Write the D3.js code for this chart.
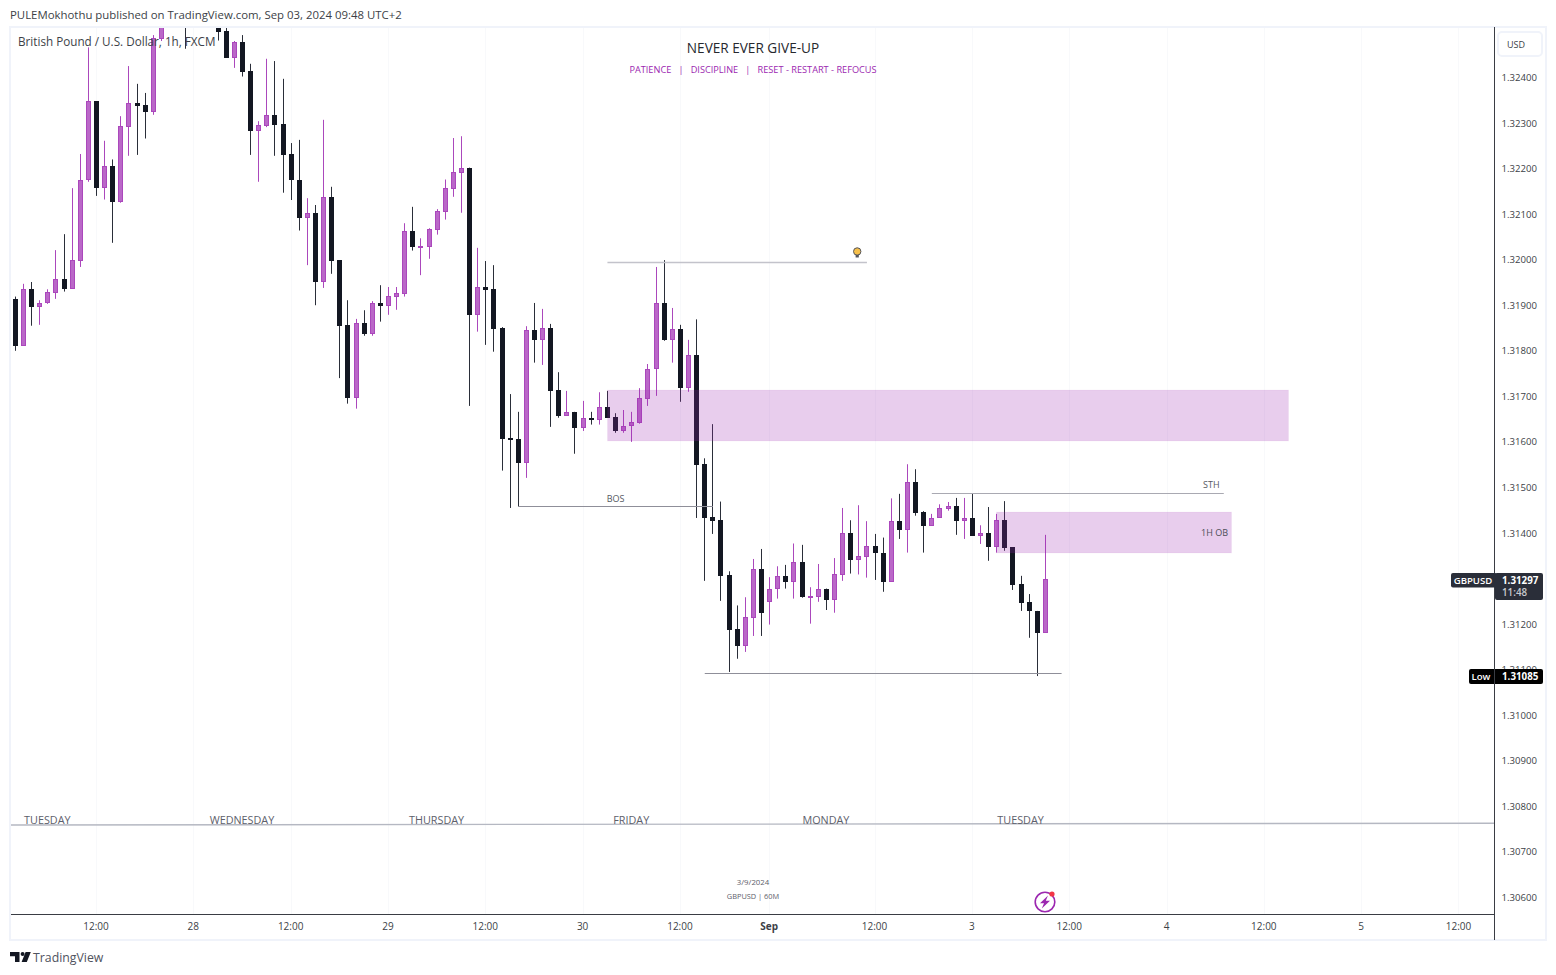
<!DOCTYPE html>
<html>
<head>
<meta charset="utf-8">
<script src="https://cdn.jsdelivr.net/npm/d3@7"></script>
<style>
html,body{margin:0;padding:0;background:#fff;overflow:hidden}
svg{display:block}
text{font-family:"Open Sans","Noto Sans",sans-serif}
</style>
</head>
<body>
<div id="chart"></div>
<script>
// ---- data (GBPUSD, 1h) ---------------------------------------------------
const opens=[1.31912,1.31810,1.31934,1.31896,1.31905,1.31926,1.31956,1.31935,1.31997,1.32175,
1.32347,1.32157,1.32204,1.32126,1.32291,1.32342,1.32339,1.32324,1.32483,
null,null,1.32560,null,null,null,
1.32512,1.32500,1.32442,1.32476,1.32413,
1.32282,1.32293,1.32316,1.32296,1.32230,1.32175,1.32091,1.32101,1.31951,1.32136,
1.31998,1.31855,1.31696,1.31861,1.31836,1.31903,1.31898,1.31918,1.31924,1.32061,
1.32027,1.32027,1.32065,1.32104,1.32155,1.32190,1.32200,1.31878,1.31938,1.31934,
1.31848,1.31607,1.31605,1.31553,1.31844,1.31823,1.31850,1.31712,1.31656,1.31664,
1.31630,1.31651,1.31648,1.31675,1.31653,1.31623,1.31634,1.31641,1.31694,1.31760,
1.31905,1.31823,1.31846,1.31718,1.31789,1.31550,1.31434,1.31427,1.31306,1.31188,
1.31151,1.31213,1.31319,1.31248,1.31277,1.31304,1.31292,1.31335,1.31259,1.31259,
1.31275,1.31252,1.31307,1.31398,1.31340,1.31347,1.31370,1.31356,1.31292,1.31425,
1.31406,1.31512,1.31445,1.31415,1.31433,1.31452,1.31458,1.31426,1.31431,1.31393,
1.31400,1.31369,1.31427,1.31368,1.31286,1.31247,1.31228,1.31180];
const highs=[1.31918,1.31946,1.31950,1.31910,1.31934,1.32020,1.32055,1.32156,1.32231,1.32465,
1.32347,1.32260,1.32219,1.32314,1.32424,1.32385,1.32365,1.32492,1.32525,
null,null,1.32580,null,null,null,
1.32521,1.32514,1.32479,1.32492,1.32429,
1.32303,1.32440,1.32435,1.32396,1.32255,1.32262,1.32134,1.32119,1.32306,1.32159,
1.31998,1.31910,1.31869,1.31888,1.31908,1.31943,1.31939,1.31939,1.32079,1.32115,
1.32046,1.32068,1.32110,1.32175,1.32266,1.32270,1.32201,1.32025,1.31996,1.31987,
1.31851,1.31704,1.31665,1.31853,1.31904,1.31891,1.31858,1.31752,1.31711,1.31665,
1.31689,1.31665,1.31708,1.31711,1.31662,1.31669,1.31665,1.31717,1.31770,1.31983,
1.31998,1.31893,1.31856,1.31823,1.31868,1.31563,1.31638,1.31468,1.31315,1.31240,
1.31258,1.31342,1.31364,1.31302,1.31326,1.31329,1.31376,1.31373,1.31280,1.31331,
1.31277,1.31344,1.31454,1.31427,1.31460,1.31425,1.31397,1.31389,1.31475,1.31485,
1.31550,1.31539,1.31447,1.31441,1.31462,1.31467,1.31476,1.31476,1.31486,1.31416,
1.31456,1.31441,1.31469,1.31368,1.31305,1.31265,1.31228,1.31395];
const lows=[1.31799,1.31810,1.31854,1.31856,1.31902,1.31913,1.31929,1.31935,1.31983,1.32170,
1.32139,1.32131,1.32036,1.32124,1.32227,1.32229,1.32265,1.32317,1.32479,
null,null,1.32462,null,null,null,
1.32480,1.32442,1.32420,1.32401,1.32229,
1.32170,1.32290,1.32227,1.32146,1.32130,1.32063,1.31987,1.31899,1.31937,1.31968,
1.31739,1.31683,1.31672,1.31832,1.31832,1.31863,1.31878,1.31889,1.31918,1.32019,
1.31965,1.32001,1.32054,1.32087,1.32137,1.32102,1.31678,1.31841,1.31812,1.31797,
1.31536,1.31454,1.31457,1.31520,1.31773,1.31768,1.31632,1.31652,1.31656,1.31573,
1.31623,1.31637,1.31637,1.31652,1.31619,1.31619,1.31599,1.31639,1.31678,1.31700,
1.31821,1.31773,1.31687,1.31709,1.31432,1.31294,1.31397,1.31250,1.31094,1.31123,
1.31138,1.31173,1.31173,1.31198,1.31255,1.31277,1.31255,1.31257,1.31200,1.31248,
1.31230,1.31224,1.31294,1.31310,1.31308,1.31301,1.31296,1.31270,1.31292,1.31386,
1.31356,1.31437,1.31356,1.31415,1.31433,1.31448,1.31395,1.31386,1.31393,1.31375,
1.31338,1.31356,1.31360,1.31274,1.31228,1.31169,1.31085,1.31180];
const closes=[1.31810,1.31934,1.31896,1.31905,1.31927,1.31956,1.31935,1.31998,1.32175,1.32347,
1.32157,1.32204,1.32126,1.32292,1.32342,1.32337,1.32324,1.32485,1.32512,
null,null,1.32520,null,null,null,
1.32499,1.32442,1.32476,1.32412,1.32282,
1.32294,1.32316,1.32295,1.32229,1.32175,1.32091,1.32101,1.31951,1.32136,1.31997,
1.31854,1.31696,1.31861,1.31836,1.31903,1.31898,1.31919,1.31925,1.32061,1.32027,
1.32028,1.32066,1.32105,1.32156,1.32191,1.32200,1.31878,1.31938,1.31932,1.31847,
1.31606,1.31604,1.31553,1.31844,1.31823,1.31850,1.31711,1.31656,1.31664,1.31630,
1.31651,1.31648,1.31675,1.31652,1.31623,1.31635,1.31642,1.31695,1.31760,1.31905,
1.31823,1.31846,1.31718,1.31789,1.31549,1.31432,1.31426,1.31305,1.31187,1.31151,
1.31214,1.31319,1.31224,1.31277,1.31304,1.31292,1.31335,1.31259,1.31261,1.31275,
1.31252,1.31308,1.31398,1.31340,1.31348,1.31370,1.31356,1.31292,1.31425,1.31406,
1.31512,1.31443,1.31415,1.31433,1.31453,1.31458,1.31426,1.31431,1.31393,1.31400,
1.31369,1.31427,1.31367,1.31285,1.31246,1.31228,1.31180,1.31297];

const priceTicks=[1.324,1.323,1.322,1.321,1.320,1.319,1.318,1.317,1.316,1.315,1.314,1.313,1.312,1.311,1.310,1.309,1.308,1.307,1.306];
const timeTickBars=[10,22,34,46,58,70,82,93,106,118,130,142,154,166,178];
const timeTickLabels=["12:00","28","12:00","29","12:00","30","12:00","Sep","12:00","3","12:00","4","12:00","5","12:00"];
const dayNames=["TUESDAY","WEDNESDAY","THURSDAY","FRIDAY","MONDAY","TUESDAY"];
const dayBars=[4,28,52,76,100,124];

// drawn zones: [bar from, bar to, price top, price bottom]
const zoneFrom=[73,121], zoneTo=[157,150], zoneTop=[1.31713,1.31445], zoneBottom=[1.31601,1.31355];
const zoneLabels=["","1H OB"];
// drawn levels
const levelFrom=[73,62,85,113], levelTo=[105,86,129,149], levelPrice=[1.31994,1.31458,1.31091,1.31487];
const levelLabels=["","BOS","","STH"];
const sessionLinePrice=[1.30758,1.30762];
const lastPrice=1.31297, lowPrice=1.31085, bulbPrice=1.32017, bulbBar=103.8;

// ---- geometry -------------------------------------------------------------
const W=1556,H=975;
const x=d3.scaleLinear().domain([0,127]).range([15.4,15.4+127*8.11]);
const y=d3.scaleLinear().domain([1.324,1.306]).range([77,897]);
const paneL=11,paneR=1494,paneT=28,paneB=914;

const svg=d3.select("#chart").append("svg").attr("width",W).attr("height",H).attr("viewBox",`0 0 ${W} ${H}`);
svg.append("defs").append("clipPath").attr("id","pane").append("rect")
  .attr("x",paneL).attr("y",paneT).attr("width",paneR-paneL).attr("height",paneB-paneT);

// frame
svg.append("rect").attr("x",10).attr("y",27).attr("width",1536).attr("height",913)
  .attr("fill","#fff").attr("stroke","#f0f3fa").attr("stroke-width",2);

svg.append("text").attr("x",10).attr("y",19).attr("font-size",11.4).attr("fill","#3c3f47")
  .text("PULEMokhothu published on TradingView.com, Sep 03, 2024 09:48 UTC+2");

// faint vertical grid
const plot=svg.append("g").attr("clip-path","url(#pane)");
plot.selectAll("line.grid").data(timeTickBars).join("line").attr("class","grid")
  .attr("x1",d=>Math.floor(x(d))+.5).attr("x2",d=>Math.floor(x(d))+.5)
  .attr("y1",paneT).attr("y2",paneB).attr("stroke","#f8f9fb");

// candles
const bars=d3.range(opens.length).filter(i=>opens[i]!==null).map(i=>({i,o:opens[i],h:highs[i],l:lows[i],c:closes[i]}));
const UP_FILL="#ba68c8",UP_LINE="#ab47bc",DOWN="#131722",DOWN_WICK="#2a2e39";
const up=d=>d.c>=d.o;
const cx=d=>Math.floor(x(d.i))+.5;
const g=plot.append("g");
g.selectAll("line.wick").data(bars).join("line").attr("class","wick")
  .attr("x1",cx).attr("x2",cx).attr("y1",d=>y(d.h)).attr("y2",d=>y(d.l))
  .attr("stroke",d=>up(d)?UP_LINE:DOWN_WICK).attr("stroke-width",1);
g.selectAll("rect.body").data(bars).join("rect").attr("class","body")
  .attr("x",d=>cx(d)-2).attr("width",4)
  .attr("y",d=>Math.round(y(Math.max(d.o,d.c)))+.5)
  .attr("height",d=>Math.max(1,Math.round(y(Math.min(d.o,d.c)))-Math.round(y(Math.max(d.o,d.c)))-1))
  .attr("fill",d=>up(d)?UP_FILL:DOWN).attr("stroke",d=>up(d)?UP_LINE:DOWN);

// zones over the candles
const zones=d3.range(zoneFrom.length);
plot.selectAll("rect.zone").data(zones).join("rect").attr("class","zone")
  .attr("x",i=>Math.floor(x(zoneFrom[i]))+.5).attr("width",i=>Math.floor(x(zoneTo[i]))-Math.floor(x(zoneFrom[i])))
  .attr("y",i=>Math.round(y(zoneTop[i]))).attr("height",i=>Math.round(y(zoneBottom[i]))-Math.round(y(zoneTop[i])))
  .attr("fill","rgba(156,39,176,0.23)").attr("stroke","rgba(156,39,176,0.04)");
plot.selectAll("text.zl").data(zones).join("text").attr("class","zl")
  .attr("x",i=>Math.floor(x(zoneTo[i]))-3).attr("y",i=>(y(zoneTop[i])+y(zoneBottom[i]))/2+3.5)
  .attr("text-anchor","end").attr("font-size",9).attr("fill","#4a4d57").text(i=>zoneLabels[i]);

// levels
const levels=d3.range(levelFrom.length);
const levelColors=["#c3c3cb","#8f8f99","#8f8f99","#a9a9b2"];
plot.selectAll("line.level").data(levels).join("line").attr("class","level")
  .attr("x1",i=>x(levelFrom[i])).attr("x2",i=>x(levelTo[i]))
  .attr("y1",i=>Math.round(y(levelPrice[i]))+.5).attr("y2",i=>Math.round(y(levelPrice[i]))+.5)
  .attr("stroke",(i)=>levelColors[i]).attr("stroke-width",i=>i===0?1.6:1.2);
plot.selectAll("text.ll").data(levels).join("text").attr("class","ll")
  .attr("x",i=>i===3?x(levelTo[i])-12.5:(x(levelFrom[i])+x(levelTo[i]))/2)
  .attr("y",i=>y(levelPrice[i])-(i===1?4:4.8)).attr("text-anchor","middle").attr("font-size",9).attr("fill","#555862")
  .text(i=>levelLabels[i]);

// session separator & day names
plot.append("line").attr("x1",paneL).attr("x2",paneR)
  .attr("y1",y(sessionLinePrice[0])).attr("y2",y(sessionLinePrice[1]))
  .attr("stroke","#b5b8c2").attr("stroke-width",1.4);
plot.selectAll("text.day").data(dayNames).join("text").attr("class","day")
  .attr("x",(d,i)=>x(dayBars[i])-0.5).attr("y",y(sessionLinePrice[0])-1.5).attr("text-anchor","middle")
  .attr("font-size",10.8).attr("fill","#5d606b").text(d=>d);

// bulb note
const bulb=plot.append("g").attr("transform",`translate(${x(bulbBar)},${y(bulbPrice)})`);
bulb.append("circle").attr("r",3.7).attr("fill","#f7c04a").attr("stroke","#55565c").attr("stroke-width",1);
bulb.append("rect").attr("x",-1.6).attr("y",3.4).attr("width",3.2).attr("height",2.6).attr("fill","#55565c");

// watermarks
svg.append("text").attr("x",753).attr("y",53).attr("text-anchor","middle").attr("font-size",13.6).attr("fill","#26282e").text("NEVER EVER GIVE-UP");
svg.append("text").attr("x",753).attr("y",73).attr("text-anchor","middle").attr("font-size",9.2).attr("fill","#9c27b0").attr("xml:space","preserve").text("PATIENCE   |   DISCIPLINE   |   RESET - RESTART - REFOCUS");
svg.append("text").attr("x",753).attr("y",885).attr("text-anchor","middle").attr("font-size",7.8).attr("fill","#5d606b").text("3/9/2024");
svg.append("text").attr("x",753).attr("y",899).attr("text-anchor","middle").attr("font-size",7.4).attr("fill","#5d606b").text("GBPUSD | 60M");
svg.append("text").attr("x",18).attr("y",46).attr("font-size",11.7).attr("fill","#3c3f47").text("British Pound / U.S. Dollar, 1h, FXCM");

// axes
const yAxis=d3.axisRight(y).tickValues(priceTicks).tickFormat(d3.format(".5f")).tickSize(0).tickPadding(0);
const ya=svg.append("g").attr("transform","translate(1502,0.4)").call(yAxis);
ya.select(".domain").remove();
ya.selectAll("text").attr("font-size",9.6).attr("fill","#3c3f47").attr("font-family",'"Open Sans",sans-serif').attr("dx",-.5);

const xAxis=d3.axisBottom(x).tickValues(timeTickBars).tickFormat((d,i)=>timeTickLabels[i]).tickSize(0).tickPadding(0);
const xa=svg.append("g").attr("transform","translate(-1,923)").call(xAxis);
xa.select(".domain").remove();
xa.selectAll("text").attr("font-size",10).attr("fill","#3c3f47").attr("font-family",'"Open Sans",sans-serif')
  .attr("font-weight",(d,i)=>timeTickLabels[i]==="Sep"?700:400);

svg.append("line").attr("x1",1494.5).attr("x2",1494.5).attr("y1",27).attr("y2",940).attr("stroke","#3a3d44");
svg.append("line").attr("x1",11).attr("x2",1494.5).attr("y1",914.5).attr("y2",914.5).attr("stroke","#3a3d44");

// currency box
svg.append("rect").attr("x",1498).attr("y",32).attr("width",44).attr("height",24).attr("rx",4)
  .attr("fill","#fff").attr("stroke","#f0f3fa").attr("stroke-width",2);
svg.append("text").attr("x",1516).attr("y",48).attr("text-anchor","middle").attr("font-size",9).attr("fill","#3c3f47").text("USD");

// last price tag
const ly=Math.round(y(lastPrice))+1;
svg.append("rect").attr("x",1451).attr("y",ly-7).attr("width",46).attr("height",14.5).attr("rx",2).attr("fill","#2a2e39");
svg.append("rect").attr("x",1495).attr("y",ly-7).attr("width",48).attr("height",27).attr("rx",2).attr("fill","#2a2e39");
svg.append("text").attr("x",1473).attr("y",ly+4).attr("text-anchor","middle").attr("font-size",9.6).attr("font-weight",600).attr("fill","#fff").text("GBPUSD");
svg.append("text").attr("x",1502).attr("y",ly+4).attr("font-size",9.8).attr("font-weight",700).attr("fill","#fff").text(lastPrice.toFixed(5));
svg.append("text").attr("x",1502).attr("y",ly+16).attr("font-size",9.8).attr("font-weight",600).attr("fill","#c8c9cf").text("11:48");

// low tag
const lw=Math.round(y(lowPrice));
svg.append("rect").attr("x",1469).attr("y",lw-7).attr("width",74).attr("height",15).attr("rx",2).attr("fill","#000");
svg.append("text").attr("x",1481).attr("y",lw+4).attr("text-anchor","middle").attr("font-size",9.6).attr("font-weight",600).attr("fill","#fff").text("Low");
svg.append("text").attr("x",1502).attr("y",lw+4).attr("font-size",9.8).attr("font-weight",700).attr("fill","#fff").text(lowPrice.toFixed(5));
svg.append("line").attr("x1",1494.5).attr("x2",1494.5).attr("y1",lw-7).attr("y2",lw+8).attr("stroke","#3a3d44");

// lightning badge
const badge=svg.append("g").attr("transform","translate(1045,902)");
badge.append("circle").attr("r",9.8).attr("fill","#fff").attr("stroke","#9c27b0").attr("stroke-width",1.6);
badge.append("path").attr("d","M3 -6.5 L-5 1.2 L-1 1.2 L-3.2 6.5 L5 -1.2 L0.8 -1.2 Z").attr("fill","#9c27b0");
badge.append("circle").attr("cx",7).attr("cy",-8).attr("r",2.6).attr("fill","#f23645");

// TradingView logo
const logo=svg.append("g").attr("fill","#131722");
logo.append("path").attr("d","M10 952H19.5V962H15V956.3H10Z");
logo.append("circle").attr("cx",22.6).attr("cy",954).attr("r",2);
logo.append("path").attr("d","M25.6 952H30.8L26.8 962H21.6Z");
svg.append("text").attr("x",33).attr("y",962).attr("font-size",12.3).attr("fill","#50535e").text("TradingView");
</script>
</body>
</html>
